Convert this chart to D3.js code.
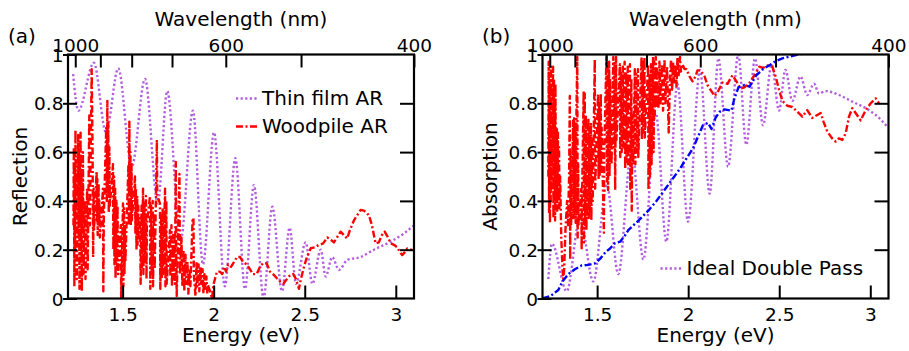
<!DOCTYPE html>
<html><head><meta charset="utf-8">
<script src="https://cdn.jsdelivr.net/npm/d3@7"></script>
<style>
body{margin:0;background:#fff;}
svg{display:block;font-family:"DejaVu Sans",Verdana,sans-serif;}
</style></head><body>
<svg id="fig" width="909" height="351"></svg>
<script>
// ---- axis ticks ----
const energyTicks = [1.5, 2, 2.5, 3];
const wavelengthTicks = [1000, 900, 800, 700, 600, 500, 400];
const wavelengthLabels = [1000, 600, 400];
const valueTicks = [0, 0.2, 0.4, 0.6, 0.8, 1];

// ---- (a) reflection spectra: [energy eV, reflection] ----
const thinFilmAR = [[1.228,0.92],[1.257,0.77],[1.342,0.966],[1.409,0.68],[1.476,0.943],[1.550,0.54],[1.623,0.90],[1.693,0.39],[1.745,0.85],[1.818,0.235],[1.886,0.77],[1.941,0.14],[2.002,0.68],[2.061,0.05],[2.119,0.575],[2.172,0.04],[2.221,0.465],[2.274,0.0],[2.322,0.376],[2.375,0.03],[2.417,0.29],[2.452,0.06],[2.505,0.23],[2.542,0.06],[2.588,0.20],[2.615,0.09],[2.651,0.17],[2.688,0.117],[2.734,0.158],[2.807,0.17],[2.880,0.20],[2.972,0.233],[3.045,0.267],[3.100,0.30]];

const woodpileAR = [[1.230,0.30],[1.232,0.62],[1.235,0.05],[1.237,0.55],[1.239,0.20],[1.241,0.69],[1.243,0.35],[1.246,0.50],[1.248,0.08],
[1.256,0.67],[1.258,0.25],[1.260,0.60],[1.263,0.04],[1.265,0.55],[1.267,0.30],[1.269,0.68],[1.271,0.20],[1.274,0.50],[1.276,0.03],[1.278,0.45],[1.280,0.28],[1.282,0.60],[1.285,0.10],
[1.293,0.40],[1.296,0.08],[1.305,0.45],[1.308,0.12],[1.317,0.75],[1.320,0.30],[1.330,0.94],
[1.335,0.60],[1.338,0.17],[1.341,0.45],[1.343,0.28],
[1.357,0.52],[1.359,0.32],[1.361,0.49],[1.363,0.26],[1.368,0.47],[1.370,0.30],[1.372,0.40],[1.375,0.25],
[1.392,0.45],[1.394,0.03],[1.397,0.35],
[1.410,0.70],[1.413,0.40],[1.416,0.81],[1.418,0.45],[1.421,0.72],[1.424,0.35],[1.427,0.62],[1.430,0.38],
[1.447,0.55],[1.449,0.20],[1.453,0.50],[1.455,0.14],[1.459,0.45],[1.461,0.08],[1.466,0.40],[1.469,0.12],[1.472,0.38],[1.475,0.10],
[1.490,0.30],[1.492,0.00],
[1.502,0.39],[1.504,0.05],[1.508,0.37],[1.510,0.10],[1.513,0.30],[1.515,0.15],
[1.532,0.55],[1.534,0.30],[1.537,0.725],[1.539,0.45],[1.543,0.60],[1.545,0.30],[1.549,0.55],[1.551,0.32],
[1.568,0.50],[1.570,0.27],[1.573,0.45],[1.576,0.20],[1.580,0.42],[1.582,0.22],[1.586,0.38],[1.588,0.25],
[1.596,0.33],[1.599,0.06],[1.604,0.38],[1.606,0.12],[1.612,0.45],[1.614,0.10],[1.620,0.40],[1.622,0.15],[1.628,0.42],[1.631,0.08],[1.633,0.30],
[1.650,0.42],[1.652,0.04],[1.657,0.38],[1.660,0.10],[1.665,0.40],[1.667,0.05],[1.673,0.35],[1.676,0.12],
[1.686,0.55],[1.688,0.65],[1.690,0.42],
[1.705,0.39],[1.707,0.04],[1.712,0.35],[1.715,0.08],[1.720,0.37],[1.722,0.10],
[1.733,0.45],[1.735,0.05],[1.740,0.40],[1.742,0.06],
[1.760,0.28],[1.762,0.09],[1.768,0.30],[1.771,0.05],[1.777,0.26],[1.779,0.08],[1.785,0.25],[1.787,0.06],
[1.792,0.56],[1.794,0.20],[1.797,0.01],
[1.812,0.51],[1.815,0.10],[1.823,0.25],[1.828,0.05],[1.834,0.20],[1.839,0.03],[1.845,0.18],[1.850,0.06],[1.856,0.15],[1.861,0.02],[1.867,0.12],[1.872,0.05],
[1.884,0.32],[1.889,0.33],[1.891,0.10],[1.900,0.01],[1.906,0.15],[1.910,0.05],[1.917,0.14],[1.921,0.03],[1.928,0.13],[1.932,0.06],[1.939,0.12],[1.943,0.02],[1.949,0.10],[1.954,0.04],[1.960,0.09],[1.965,0.02],[1.971,0.05],[1.980,0.03],[1.991,0.00],
[1.998,0.055],[2.007,0.08],[2.018,0.11],[2.035,0.11],[2.046,0.10],[2.057,0.13],[2.068,0.11],[2.079,0.14],[2.095,0.13],[2.112,0.15],[2.128,0.17],[2.145,0.17],[2.161,0.15],[2.181,0.14],[2.199,0.12],[2.216,0.10],[2.236,0.10],[2.254,0.13],[2.271,0.145],[2.291,0.144],[2.309,0.11],[2.326,0.10],[2.346,0.084],[2.364,0.07],[2.382,0.06],[2.397,0.075],[2.419,0.095],[2.437,0.10],[2.452,0.08],[2.468,0.04],[2.479,0.08],[2.496,0.13],[2.512,0.17],[2.533,0.206],[2.556,0.21],[2.578,0.22],[2.600,0.225],[2.624,0.25],[2.644,0.24],[2.660,0.23],[2.677,0.25],[2.697,0.274],[2.715,0.26],[2.733,0.246],[2.748,0.28],[2.770,0.32],[2.787,0.34],[2.807,0.363],[2.825,0.36],[2.842,0.35],[2.853,0.34],[2.869,0.30],[2.889,0.226],[2.907,0.23],[2.924,0.26],[2.939,0.274],[2.954,0.255],[2.972,0.226],[2.990,0.22],[3.008,0.21],[3.023,0.19],[3.035,0.178],[3.050,0.19],[3.063,0.205],[3.078,0.20],[3.091,0.20]];

// ---- (b) absorption spectra: [energy eV, absorption] ----
const idealDoublePass = [[1.232,0.08],[1.252,0.225],[1.333,0.03],[1.406,0.33],[1.479,0.07],[1.553,0.465],[1.616,0.10],[1.690,0.61],[1.754,0.16],[1.822,0.76],[1.880,0.233],[1.941,0.88],[1.999,0.315],[2.065,0.936],[2.118,0.43],[2.166,0.984],[2.219,0.54],[2.275,1.0],[2.319,0.63],[2.367,0.984],[2.411,0.71],[2.458,0.96],[2.499,0.77],[2.534,0.937],[2.572,0.81],[2.617,0.91],[2.654,0.834],[2.691,0.88],[2.718,0.84],[2.754,0.85],[2.828,0.834],[2.901,0.807],[2.975,0.78],[3.030,0.752],[3.093,0.705]];

const woodpileAbs = [[1.232,0.50],[1.234,0.97],[1.236,0.35],[1.238,0.90],[1.241,0.31],[1.243,0.85],[1.245,0.40],[1.247,0.95],[1.249,0.45],
[1.258,0.95],[1.260,0.33],[1.263,0.90],[1.265,0.45],[1.267,0.80],[1.269,0.32],[1.271,0.88],[1.274,0.40],
[1.279,0.70],[1.281,0.36],[1.285,0.68],[1.287,0.40],[1.291,0.62],[1.293,0.37],[1.297,0.50],
[1.303,0.25],[1.310,0.12],[1.314,0.08],[1.319,0.12],[1.326,0.28],[1.335,0.40],[1.340,0.30],[1.346,0.50],
[1.350,0.83],[1.352,0.16],[1.354,0.60],[1.357,0.30],
[1.368,0.73],[1.370,0.33],[1.374,0.745],[1.376,0.35],[1.380,0.70],[1.382,0.31],[1.387,0.80],
[1.391,0.99],[1.393,0.25],[1.396,0.55],[1.398,0.30],
[1.413,0.45],[1.415,0.20],[1.417,0.40],
[1.426,0.85],[1.428,0.23],[1.432,0.84],[1.434,0.30],[1.438,0.75],[1.441,0.28],
[1.452,0.74],[1.454,0.33],[1.458,0.70],[1.460,0.36],[1.466,0.72],[1.468,0.32],[1.474,0.65],[1.476,0.40],
[1.487,0.98],[1.489,0.45],
[1.505,0.84],[1.508,0.49],[1.512,0.80],[1.514,0.50],[1.520,0.84],[1.522,0.52],[1.525,0.70],
[1.537,0.27],[1.539,0.60],
[1.551,0.99],[1.554,0.48],[1.558,0.95],[1.560,0.445],[1.566,0.97],[1.568,0.50],[1.571,0.90],
[1.579,0.55],[1.589,0.99],[1.591,0.62],[1.596,0.97],[1.599,0.445],[1.604,0.99],[1.606,0.65],
[1.625,0.96],[1.627,0.58],[1.633,0.93],[1.635,0.60],[1.641,0.95],[1.644,0.62],
[1.651,0.97],[1.654,0.53],[1.659,0.93],[1.661,0.56],[1.668,0.95],[1.670,0.55],
[1.680,0.96],[1.682,0.45],[1.688,0.90],[1.690,0.36],[1.694,0.75],[1.698,0.55],
[1.707,0.94],[1.710,0.55],[1.715,0.92],[1.717,0.60],[1.724,0.94],[1.726,0.58],
[1.744,0.99],[1.746,0.65],[1.751,0.97],[1.754,0.68],[1.760,0.99],[1.762,0.66],
[1.780,0.96],[1.782,0.445],[1.788,0.92],[1.790,0.50],[1.796,0.96],[1.799,0.55],
[1.807,0.99],[1.810,0.60],[1.814,0.97],[1.816,0.75],[1.822,0.99],[1.824,0.78],[1.827,0.95],
[1.837,0.78],[1.842,0.97],[1.848,0.80],[1.856,0.96],[1.862,0.77],[1.870,0.98],[1.875,0.80],[1.884,0.95],[1.893,0.68],[1.900,0.90],[1.906,0.98],[1.911,0.85],[1.917,0.97],[1.922,0.88],[1.930,0.96],[1.936,0.87],[1.941,0.99],[1.947,0.91],[1.955,0.99],[1.960,0.93],[1.969,0.96],
[1.980,0.94],[1.991,0.94],[2.007,0.91],[2.024,0.89],[2.040,0.91],[2.051,0.935],[2.068,0.935],[2.090,0.91],[2.106,0.875],[2.123,0.855],[2.145,0.83],[2.161,0.845],[2.188,0.885],[2.216,0.88],[2.243,0.915],[2.265,0.89],[2.287,0.86],[2.309,0.865],[2.337,0.885],[2.364,0.915],[2.391,0.95],[2.411,0.945],[2.435,0.955],[2.462,0.95],[2.480,0.91],[2.499,0.855],[2.517,0.81],[2.544,0.79],[2.572,0.785],[2.599,0.766],[2.627,0.745],[2.654,0.772],[2.681,0.74],[2.704,0.75],[2.728,0.76],[2.743,0.725],[2.764,0.684],[2.791,0.656],[2.810,0.643],[2.828,0.656],[2.846,0.65],[2.865,0.677],[2.883,0.745],[2.901,0.78],[2.929,0.75],[2.947,0.73],[2.975,0.772],[3.002,0.80],[3.030,0.82],[3.048,0.80]];

const referenceAbs = [[1.200,0.0],[1.244,0.01],[1.287,0.035],[1.310,0.07],[1.342,0.10],[1.378,0.12],[1.414,0.135],[1.453,0.138],[1.488,0.144],[1.519,0.165],[1.546,0.19],[1.571,0.205],[1.595,0.225],[1.626,0.233],[1.650,0.255],[1.671,0.28],[1.699,0.30],[1.735,0.325],[1.781,0.36],[1.826,0.40],[1.880,0.455],[1.953,0.53],[2.026,0.615],[2.081,0.71],[2.109,0.72],[2.128,0.695],[2.150,0.74],[2.172,0.765],[2.199,0.775],[2.237,0.77],[2.254,0.82],[2.276,0.865],[2.309,0.875],[2.337,0.868],[2.374,0.915],[2.411,0.94],[2.444,0.955],[2.480,0.972],[2.517,0.984],[2.554,0.991],[2.622,1.003]];

// ---- layout ----
const W = 346, H = 244;
const panels = [
  {id: "a", left: 68, top: 54.5, ylabel: "Reflection", ylabelX: -41, tagX: -60},
  {id: "b", left: 542.5, top: 54.5, ylabel: "Absorption", ylabelX: -45.5, tagX: -60.5}
];
const purple = "#b35ee0", red = "#ff0000", blue = "#0000ff";
const hc = 1239.84; // eV*nm

const svg = d3.select("#fig");
const x = d3.scaleLinear().domain([1.2, 3.1]).range([0, W]);
const y = d3.scaleLinear().domain([0, 1]).range([H, 0]);

const straight = d3.line().x(d => x(d[0])).y(d => y(d[1]));
const smooth = d3.line().x(d => x(d[0])).y(d => y(d[1])).curve(d3.curveMonotoneX);

const styles = {
  dot: {stroke: purple, width: 2.4, dash: "2.2,2.4"},
  red: {stroke: red, width: 2.4, dash: "7,2.5,2,2.5"},
  blue: {stroke: blue, width: 2.4, dash: "7,2.5,2,2.5"}
};

function drawPanel(p, series, legend) {
  const g = svg.append("g").attr("transform", `translate(${p.left},${p.top})`);
  g.append("clipPath").attr("id", "clip-" + p.id)
    .append("rect").attr("width", W).attr("height", H);
  const plot = g.append("g").attr("clip-path", `url(#clip-${p.id})`);

  series.forEach(s => {
    const st = styles[s.style];
    plot.append("path").datum(s.data)
      .attr("d", s.smooth ? smooth : straight)
      .attr("fill", "none").attr("stroke", st.stroke)
      .attr("stroke-width", st.width).attr("stroke-dasharray", st.dash)
      .attr("stroke-linejoin", "round");
  });

  // bottom energy axis, ticks pointing inward
  const bx = g.append("g").attr("transform", `translate(0,${H})`)
    .call(d3.axisBottom(x).tickValues(energyTicks).tickSize(-13).tickFormat(d3.format("")));
  // left value axis, ticks crossing the frame
  const lx = g.append("g")
    .call(d3.axisLeft(y).tickValues(valueTicks).tickFormat(d => (d === 0 || d === 1) ? d : d.toFixed(1)));
  lx.selectAll(".tick line").attr("x1", -5).attr("x2", 9);
  // right axis, inward ticks only
  g.append("g").attr("transform", `translate(${W},0)`)
    .call(d3.axisRight(y).tickValues(valueTicks.slice(1, 5)).tickSize(-14).tickFormat(""));
  // top wavelength axis
  const tx = g.append("g")
    .call(d3.axisTop(x).tickValues(wavelengthTicks.map(l => hc / l)).tickSize(-13)
      .tickFormat(d => { const l = Math.round(hc / d); return wavelengthLabels.includes(l) ? l : ""; }));

  g.selectAll(".domain").remove();
  g.selectAll(".tick line").attr("stroke", "#000").attr("stroke-width", 2);
  g.selectAll(".tick text").attr("fill", "#000").attr("font-size", 18.5)
    .attr("font-family", "DejaVu Sans, Verdana, sans-serif");
  bx.selectAll(".tick text").attr("y", 22.5).attr("dy", 0);
  lx.selectAll(".tick text").attr("x", -4.5).attr("dy", "0.36em");
  tx.selectAll(".tick text").attr("y", -2.5).attr("dy", 0);

  // frame
  g.append("rect").attr("width", W).attr("height", H)
    .attr("fill", "none").attr("stroke", "#000").attr("stroke-width", 2.2);

  // titles
  g.append("text").attr("x", W / 2).attr("y", -29).attr("text-anchor", "middle")
    .attr("font-size", 20).text("Wavelength (nm)");
  g.append("text").attr("x", W / 2).attr("y", H + 43).attr("text-anchor", "middle")
    .attr("font-size", 20).text("Energy (eV)");
  g.append("text").attr("transform", `translate(${p.ylabelX},${H / 2}) rotate(-90)`)
    .attr("text-anchor", "middle").attr("font-size", 20).text(p.ylabel);
  g.append("text").attr("x", p.tagX).attr("y", -11.5).attr("font-size", 20).text(`(${p.id})`);

  // legend
  legend.forEach(l => {
    const st = styles[l.style];
    g.append("line").attr("x1", l.x).attr("x2", l.x + 22).attr("y1", l.y - 6.5).attr("y2", l.y - 6.5)
      .attr("stroke", st.stroke).attr("stroke-width", st.width).attr("stroke-dasharray", st.dash);
    g.append("text").attr("x", l.x + 26).attr("y", l.y).attr("font-size", 20).text(l.label);
  });
}

drawPanel(panels[0], [
  {data: thinFilmAR, style: "dot", smooth: true},
  {data: woodpileAR, style: "red"}
], [
  {label: "Thin film AR", style: "dot", x: 168, y: 50.5},
  {label: "Woodpile AR", style: "red", x: 168, y: 78.5}
]);

drawPanel(panels[1], [
  {data: idealDoublePass, style: "dot", smooth: true},
  {data: woodpileAbs, style: "red"},
  {data: referenceAbs, style: "blue"}
], [
  {label: "Ideal Double Pass", style: "dot", x: 118, y: 220.5}
]);
</script>
</body></html>
